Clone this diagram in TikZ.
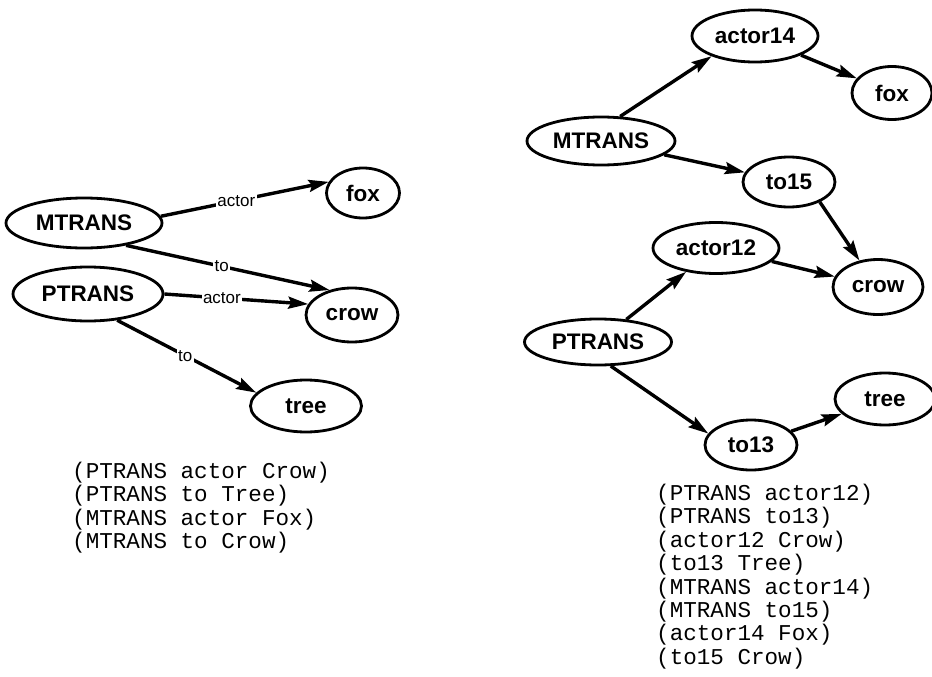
\documentclass[tikz,border=0pt]{standalone}
\usepackage{fontspec}
\setmainfont{Liberation Sans}
\newfontfamily\monofont{Liberation Mono}
\usetikzlibrary{shapes.geometric,arrows.meta}

\tikzset{
  concept/.style={ellipse, draw, line width=2.8pt, inner sep=0pt,
    font=\fontsize{22.5}{24}\selectfont\bfseries},
  rel/.style={line width=3.4pt, -{Stealth[length=20pt,width=12pt,inset=3pt]}},
  tag/.style={fill=white, inner sep=1.5pt, font=\fontsize{17}{18}\selectfont},
  facts/.style={anchor=north west, align=left, inner sep=0pt,
    font=\monofont\fontsize{22.6}{23.4}\selectfont}
}

\begin{document}
\begin{tikzpicture}[x=1pt,y=-1pt]
\useasboundingbox (0,0) rectangle (932,677);

% ---- flat representation ----
\node[concept, minimum width=156pt, minimum height=50pt] (lm) at (84,223) {MTRANS};
\node[concept, minimum width=73pt,  minimum height=50pt] (lfox) at (363,193) {fox};
\node[concept, minimum width=150pt, minimum height=54pt] (lp) at (88,294) {PTRANS};
\node[concept, minimum width=92pt,  minimum height=54pt] (lcrow) at (352,315) {crow};
\node[concept, minimum width=111pt, minimum height=52pt] (ltree) at (306,406) {tree};

\draw[rel] (lm.5) -- node[tag, pos=0.45] {actor} (lfox.162);
\draw[rel] (lm.-28) -- node[tag, pos=0.47] {to} (lcrow.132);
\draw[rel] (lp.east) -- node[tag, pos=0.4] {actor} (lcrow.166);
\draw[rel] (lp.-42) -- node[tag, pos=0.49] {to} (ltree.165);

\node[facts] (lfacts) at (72,462) {(PTRANS actor Crow)\\(PTRANS to Tree)\\(MTRANS actor Fox)\\(MTRANS to Crow)};

% ---- reified representation ----
\node[concept, minimum width=126pt, minimum height=52pt] (a14) at (755,36) {actor14};
\node[concept, minimum width=80pt,  minimum height=53pt] (rfox) at (892,93) {fox};
\node[concept, minimum width=148pt, minimum height=48pt] (rm) at (601,141) {MTRANS};
\node[concept, minimum width=92pt,  minimum height=50pt] (t15) at (789,182) {to15};
\node[concept, minimum width=126pt, minimum height=51pt] (a12) at (716,248) {actor12};
\node[concept, minimum width=90pt,  minimum height=55pt] (rcrow) at (878,287) {crow};
\node[concept, minimum width=147pt, minimum height=46pt] (rp) at (598,342) {PTRANS};
\node[concept, minimum width=100pt, minimum height=52pt] (rtree) at (885,399) {tree};
\node[concept, minimum width=92pt,  minimum height=50pt] (t13) at (751,445) {to13};

\draw[rel] (rm.52) -- (a14.205);
\draw[rel] (a14) -- (rfox);
\draw[rel] (rm) -- (t15);
\draw[rel] (t15.-33) -- (rcrow.125);
\draw[rel] (a12) -- (rcrow);
\draw[rel] (rp) -- (a12);
\draw[rel] (rp.-62) -- (t13.165);
\draw[rel] (t13) -- (rtree);

\node[facts] (rfacts) at (656,484) {(PTRANS actor12)\\(PTRANS to13)\\(actor12 Crow)\\(to13 Tree)\\(MTRANS actor14)\\(MTRANS to15)\\(actor14 Fox)\\(to15 Crow)};
\end{tikzpicture}
\end{document}
